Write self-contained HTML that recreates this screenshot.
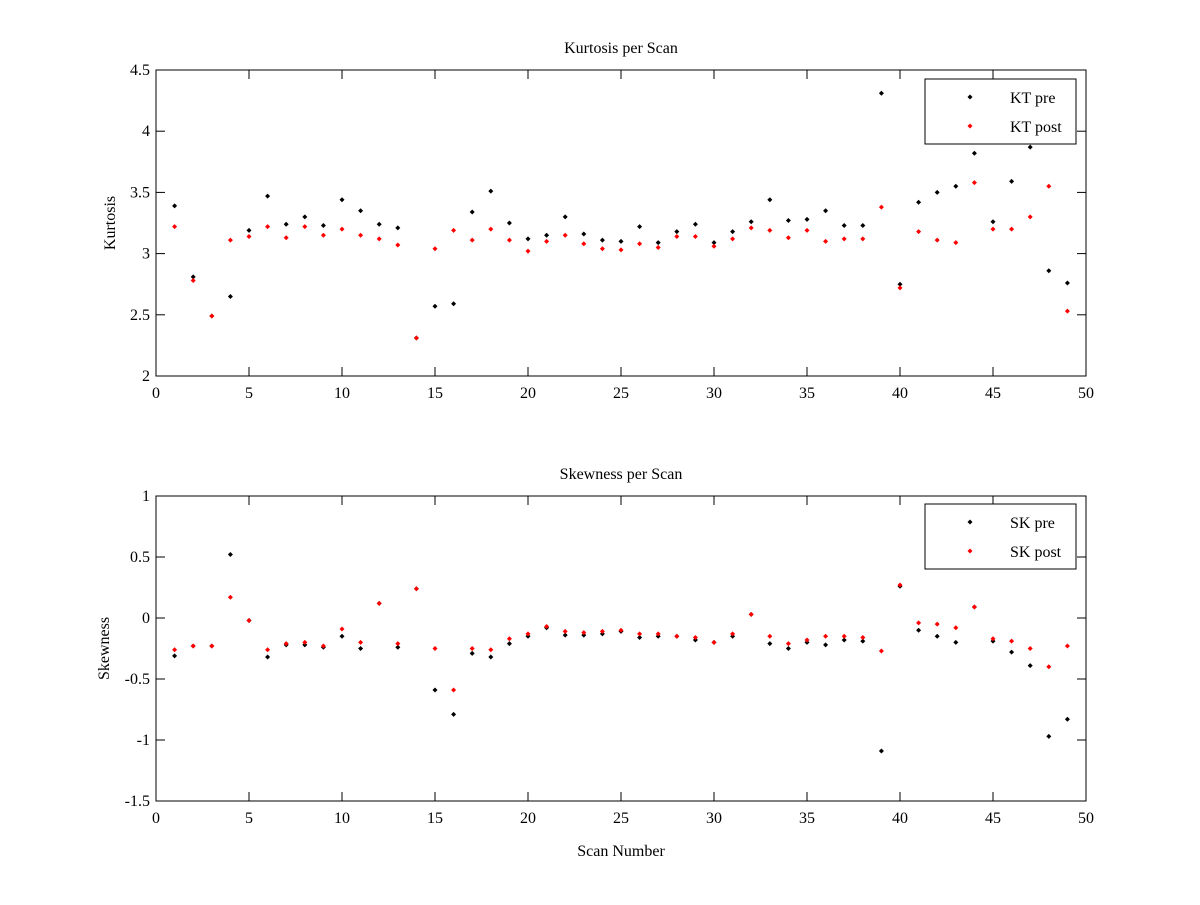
<!DOCTYPE html>
<html><head><meta charset="utf-8">
<style>
body{margin:0;background:#fff;}
svg text{font-family:"Liberation Serif",serif;font-size:16px;fill:#000;}
</style></head>
<body>
<svg id="chart" width="1200" height="900" xmlns="http://www.w3.org/2000/svg">
<rect width="1200" height="900" fill="#fff"/>
</svg>
<script>
const scans = Array.from({length:49},(_,i)=>i+1);
const ktPre = [3.39,2.81,2.49,2.65,3.19,3.47,3.24,3.30,3.23,3.44,3.35,3.24,3.21,2.31,2.57,2.59,3.34,3.51,3.25,3.12,3.15,3.30,3.16,3.11,3.10,3.22,3.09,3.18,3.24,3.09,3.18,3.26,3.44,3.27,3.28,3.35,3.23,3.23,4.31,2.75,3.42,3.50,3.55,3.82,3.26,3.59,3.87,2.86,2.76];
const ktPost = [3.22,2.78,2.49,3.11,3.14,3.22,3.13,3.22,3.15,3.20,3.15,3.12,3.07,2.31,3.04,3.19,3.11,3.20,3.11,3.02,3.10,3.15,3.08,3.04,3.03,3.08,3.05,3.14,3.14,3.06,3.12,3.21,3.19,3.13,3.19,3.10,3.12,3.12,3.38,2.72,3.18,3.11,3.09,3.58,3.20,3.20,3.30,3.55,2.53];
const skPre = [-0.31,-0.23,-0.23,0.52,-0.02,-0.32,-0.22,-0.22,-0.24,-0.15,-0.25,0.12,-0.24,0.24,-0.59,-0.79,-0.29,-0.32,-0.21,-0.15,-0.08,-0.14,-0.14,-0.13,-0.11,-0.16,-0.15,-0.15,-0.18,-0.20,-0.15,0.03,-0.21,-0.25,-0.20,-0.22,-0.18,-0.19,-1.09,0.26,-0.10,-0.15,-0.20,0.09,-0.19,-0.28,-0.39,-0.97,-0.83];
const skPost = [-0.26,-0.23,-0.23,0.17,-0.02,-0.26,-0.21,-0.20,-0.23,-0.09,-0.20,0.12,-0.21,0.24,-0.25,-0.59,-0.25,-0.26,-0.17,-0.13,-0.07,-0.11,-0.12,-0.11,-0.10,-0.13,-0.13,-0.15,-0.16,-0.20,-0.13,0.03,-0.15,-0.21,-0.18,-0.15,-0.15,-0.16,-0.27,0.27,-0.04,-0.05,-0.08,0.09,-0.17,-0.19,-0.25,-0.40,-0.23];
const xTicks = [0,5,10,15,20,25,30,35,40,45,50];
const ktTicks = [2,2.5,3,3.5,4,4.5];
const ktTickLabels = ["2","2.5","3","3.5","4","4.5"];
const skTicks = [-1.5,-1,-0.5,0,0.5,1];
const skTickLabels = ["-1.5","-1","-0.5","0","0.5","1"];

const NS="http://www.w3.org/2000/svg";
const svg=document.getElementById('chart');
function mk(tag,attrs,parent){const e=document.createElementNS(NS,tag);for(const k in attrs)e.setAttribute(k,attrs[k]);(parent||svg).appendChild(e);return e;}
function diamond(x,y,c,p){return mk('polygon',{points:`${x},${y-2.5} ${x+2.5},${y} ${x},${y+2.5} ${x-2.5},${y}`,fill:c},p);}

function panel(cfg){
  const {L,R,T,B,ymin,ymax,yt,ytl,pre,post,title,ylabel,names,leg,key}=cfg;
  const g=mk('g',{});
  
  
  const xs=v=>L+(v-0)/(50-0)*(R-L);
  const ys=v=>B-(v-ymin)/(ymax-ymin)*(B-T);
  const box=mk('rect',{x:L,y:T,width:R-L,height:B-T,fill:'none',stroke:'#000','stroke-width':1},g);
  
  
  xTicks.forEach(v=>{const x=xs(v);
    mk('line',{x1:x,x2:x,y1:B,y2:B-9,stroke:'#000'},g);
    mk('line',{x1:x,x2:x,y1:T,y2:T+9,stroke:'#000'},g);
    const t=mk('text',{x:x,y:B+22,'text-anchor':'middle'},g);t.textContent=v;
    
    
  });
  yt.forEach((v,i)=>{const y=ys(v);
    mk('line',{x1:L,x2:L+9,y1:y,y2:y,stroke:'#000'},g);
    mk('line',{x1:R,x2:R-9,y1:y,y2:y,stroke:'#000'},g);
    const t=mk('text',{x:L-6,y:y+5,'text-anchor':'end'},g);t.textContent=ytl[i];
    
    
  });
  scans.forEach((s,i)=>{
    const a=diamond(xs(s),ys(pre[i]),'#000',g);
    
    
  });
  scans.forEach((s,i)=>{
    const a=diamond(xs(s),ys(post[i]),'#f00',g);
    
    
  });
  const tt=mk('text',{x:(L+R)/2,y:T-17,'text-anchor':'middle'},g);tt.textContent=title;
  
  
  const yl=mk('text',{x:0,y:0,'text-anchor':'middle',transform:`translate(${cfg.ylx},${(T+B)/2}) rotate(-90)`},g);yl.textContent=ylabel;
  
  
  const lg=mk('g',{},g);
  
  
  mk('rect',{x:925,y:leg,width:151,height:65,fill:'#fff',stroke:'#000'},lg);
  diamond(970,leg+18,'#000',lg);diamond(970,leg+47,'#f00',lg);
  const l1=mk('text',{x:1010,y:leg+24},lg);l1.textContent=names[0];
  
  
  const l2=mk('text',{x:1010,y:leg+53},lg);l2.textContent=names[1];
  
  
}
panel({key:'kurtosis',L:156,R:1086,T:70,B:376,ymin:2,ymax:4.5,yt:ktTicks,ytl:ktTickLabels,pre:ktPre,post:ktPost,title:'Kurtosis per Scan',ylabel:'Kurtosis',names:['KT pre','KT post'],leg:79,ylx:115});
panel({key:'skewness',L:156,R:1086,T:496,B:801,ymin:-1.5,ymax:1,yt:skTicks,ytl:skTickLabels,pre:skPre,post:skPost,title:'Skewness per Scan',ylabel:'Skewness',names:['SK pre','SK post'],leg:504,ylx:109});
const xl=mk('text',{x:621,y:856,'text-anchor':'middle'});xl.textContent='Scan Number';


</script>
</body></html>
